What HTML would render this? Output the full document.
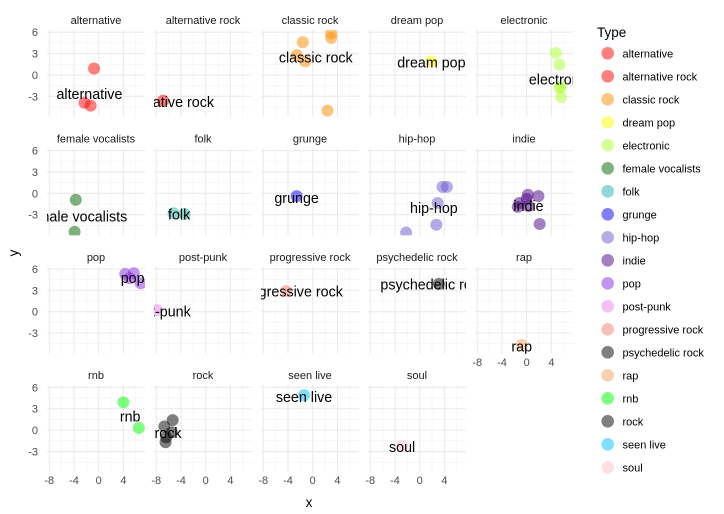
<!DOCTYPE html>
<html><head><meta charset="utf-8"><style>
body{margin:0;background:#fff;}
svg{display:block;font-family:"Liberation Sans",sans-serif;}
</style></head><body>
<svg id="chart" width="724" height="514" viewBox="0 0 724 514" xmlns="http://www.w3.org/2000/svg"></svg>
<script>
const facets = ["alternative","alternative rock","classic rock","dream pop","electronic","female vocalists","folk","grunge","hip-hop","indie","pop","post-punk","progressive rock","psychedelic rock","rap","rnb","rock","seen live","soul"];
const colors = ["#ff0000","#ff0000","#ff8c00","#ffff00","#adff2f","#006400","#20b2aa","#0000ff","#6a5acd","#4b0082","#8a2be2","#ee82ee","#fa8072","#000000","#f4a460","#00ff00","#000000","#00bfff","#ffc0cb"];
const pointX = [[-0.75,-2.3,-1.3],[-6.9],[-1.6,3.0,3.0,-2.6,-1.2,2.4],[1.9],[4.7,5.3,5.5,5.6,5.35],[-3.7,-3.9],[-5.2,-3.4],[-2.6],[3.7,4.4,2.9,2.7,-2.2],[0.2,1.9,-1.2,-1.45,0.3,2.1,0],[4.3,5.7,5.0,6.8],[-7.9],[-4.3],[3.1],[-0.8],[4.0,6.5],[-5.35,-6.7,-5.5,-6.4,-6.5],[-1.4],[-2.85]];
const pointY = [[0.9,-3.9,-4.3],[-3.6],[4.6,5.8,5.2,2.8,1.9,-5.0],[1.9],[3.1,1.45,-1.7,-3.1,-1.8],[-0.9,-5.4],[-2.8,-2.9],[-0.4],[0.9,0.9,-1.35,-4.4,-5.5],[-0.2,-0.4,-1.35,-1.9,-1.8,-4.3,-0.8],[5.3,5.4,4.7,4.0],[0.2],[2.9],[3.9],[-4.65],[3.9,0.3],[1.4,0.5,-0.3,-1.0,-1.7],[4.9],[-2.2]];
const labelX = [-1.5,-6.5,0.5,1.9,5.3,-3.6,-4.3,-2.6,2.3,0.3,5.5,-7.5,-3.6,2.2,-0.8,5.1,-6.1,-1.4,-2.85];
const labelY = [-2.7,-3.8,2.4,1.7,-0.66,-3.3,-3.0,-0.7,-2.1,-1.8,4.7,0,2.8,3.8,-4.9,1.9,-0.4,4.6,-2.4];
const xTicks = [-8,-4,0,4];
const xMinor = [-6,-2,2,6];
const yTicks = [-3,0,3,6];
const yMinor = [-4.5,-1.5,1.5,4.5];
const xDomain = [-8.37,7.5], yDomain = [-5.9,6.3];

const NS="http://www.w3.org/2000/svg";
const svg=document.getElementById('chart');
function mk(tag,attrs,parent){const e=document.createElementNS(NS,tag);for(const k in attrs)e.setAttribute(k,attrs[k]);(parent||svg).appendChild(e);return e;}
const PW=98,PH=87,X0=47,Y0=30,DX=107,DY=118.4;
const defs=mk('defs',{});
facets.forEach((f,i)=>{
  const col=i%5,row=Math.floor(i/5);
  const left=X0+col*DX, top=Y0+row*DY;
  const sx=v=>left+(v-xDomain[0])/(xDomain[1]-xDomain[0])*PW;
  const sy=v=>top+PH-(v-yDomain[0])/(yDomain[1]-yDomain[0])*PH;
  const g=mk('g',{});
  
  
  const cp=mk('clipPath',{id:'c'+i},defs);mk('rect',{x:left,y:top,width:PW,height:PH},cp);
  const strip=mk('text',{x:left+PW/2,y:top-6,'text-anchor':'middle','font-size':'11',fill:'#1a1a1a'},g);
  strip.textContent=f;
  
  
  xMinor.forEach(v=>mk('line',{x1:sx(v),x2:sx(v),y1:top,y2:top+PH,stroke:'#f2f2f2','stroke-width':0.6},g));
  yMinor.forEach(v=>mk('line',{x1:left,x2:left+PW,y1:sy(v),y2:sy(v),stroke:'#f2f2f2','stroke-width':0.6},g));
  xTicks.forEach(v=>mk('line',{x1:sx(v),x2:sx(v),y1:top,y2:top+PH,stroke:'#ebebeb','stroke-width':1.1},g));
  yTicks.forEach(v=>mk('line',{x1:left,x2:left+PW,y1:sy(v),y2:sy(v),stroke:'#ebebeb','stroke-width':1.1},g));
  const pg=mk('g',{'clip-path':'url(#c'+i+')'},g);
  pointX[i].forEach((x,j)=>{
    const c=mk('circle',{cx:sx(x),cy:sy(pointY[i][j]),r:6,fill:colors[i],'fill-opacity':0.5},pg);
    
    
  });
  const lt=mk('text',{x:sx(labelX[i]),y:sy(labelY[i])+4.8,'text-anchor':'middle','font-size':'14.3',fill:'#000'},pg);
  lt.textContent=f;
  
  
  if(col===0){yTicks.forEach(v=>{const t=mk('text',{x:left-9,y:sy(v)+4,'text-anchor':'end','font-size':'11',fill:'#4d4d4d'},g);t.textContent=v;
    
    });}
  if(row===3||i===14){xTicks.forEach(v=>{const t=mk('text',{x:sx(v),y:top+PH+12,'text-anchor':'middle','font-size':'11',fill:'#4d4d4d'},g);t.textContent=v;
    
    });}
});
const xt=mk('text',{x:309,y:507,'text-anchor':'middle','font-size':'13.5',fill:'#000'});xt.textContent='x';


const yt=mk('text',{x:18,y:253,'text-anchor':'middle','font-size':'13.5',fill:'#000',transform:'rotate(-90 18 253)'});yt.textContent='y';


const lg=mk('g',{});


const lti=mk('text',{x:597,y:37,'font-size':'13.5',fill:'#000'},lg);lti.textContent='Type';


facets.forEach((f,i)=>{
  const y=53.3+i*23;
  const e=mk('g',{},lg);
  
  
  mk('circle',{cx:607.7,cy:y,r:6.3,fill:colors[i],'fill-opacity':0.5},e);
  const t=mk('text',{x:622.5,y:y+4,'font-size':'11',fill:'#000'},e);t.textContent=f;
});
</script>
</body></html>
